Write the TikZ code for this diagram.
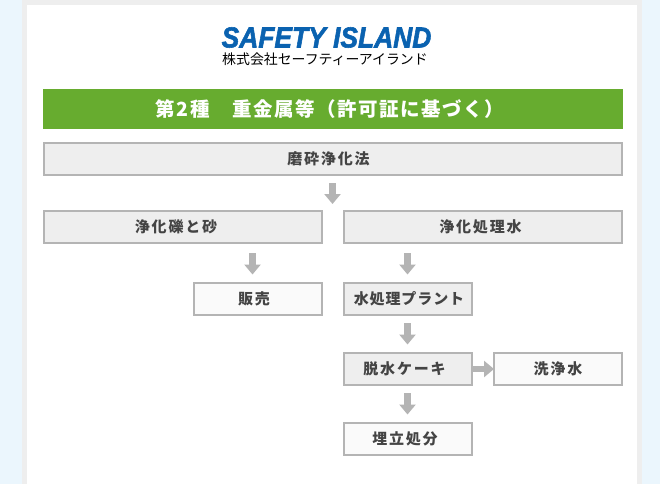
\documentclass[tikz,border=0pt]{standalone}
\usepackage{fontspec}
\usetikzlibrary{arrows.meta}
\newfontfamily\jpfont[LetterSpace=12]{Noto Sans CJK JP}
\newfontfamily\tightfont[LetterSpace=6]{Noto Sans CJK JP}
\newfontfamily\titlefont[LetterSpace=8]{Noto Sans CJK JP}
\newfontfamily\subfont{Noto Sans CJK JP}
\newfontfamily\logofont[BoldItalicFeatures={FakeBold=2}]{Liberation Sans}
\definecolor{pagebg}{HTML}{EBF6FD}
\definecolor{framegray}{HTML}{EEEEEE}
\definecolor{boxline}{HTML}{B4B4B4}
\definecolor{boxtext}{HTML}{444444}
\definecolor{barfill}{HTML}{67AC2F}
\definecolor{logoblue}{HTML}{0A62B0}
\newcommand{\shiftlabel}[2]{\hspace*{#1pt}\raisebox{-0.7pt}{#2}}
\tikzset{
  stagebox/.style={draw=boxline,line width=2pt,fill=framegray,text=boxtext,inner sep=0pt,outer sep=0pt,
    minimum height=32pt,font=\jpfont\bfseries\fontsize{15pt}{17pt}\selectfont},
  plainbox/.style={stagebox,fill=black!2},
  flowarrow/.style={draw=boxline,line width=6.5pt,-{Triangle[width=16pt,length=10pt,fill=boxline]}},
}
\begin{document}
\begin{tikzpicture}[x=1pt,y=-1pt]
\useasboundingbox (0,0) rectangle (660,484);
\fill[pagebg] (0,0) rectangle (660,484);
\fill[framegray] (22,0) rectangle (642,484);
\fill[white] (27,5) rectangle (637,484);
% logo
\node[inner sep=0pt,text=logoblue,xscale=0.91,font=\logofont\bfseries\itshape\fontsize{29pt}{31pt}\selectfont] (logo) at (326.5,37.5) {SAFETY ISLAND};
\node[inner sep=0pt,text=black,font=\subfont\fontsize{13.9pt}{15pt}\selectfont] (company) at (325,59) {株式会社セーフティーアイランド};
% heading bar
\node[fill=barfill,text=white,inner sep=0pt,minimum width=580pt,minimum height=40pt,font=\titlefont\bfseries\fontsize{19.5pt}{22pt}\selectfont] (heading) at (333,109) {\shiftlabel{-6}{第2種　重金属等（許可証に基づく）}};
% boxes
\node[stagebox,minimum width=578pt] (crush) at (333,159) {\shiftlabel{-9}{磨砕浄化法}};
\node[stagebox,minimum width=278pt] (sand) at (183,227) {\shiftlabel{-14}{浄化礫と砂}};
\node[stagebox,minimum width=278pt] (water) at (483,227) {\shiftlabel{-5}{浄化処理水}};
\node[plainbox,minimum width=128pt] (sale) at (258,299) {\shiftlabel{-8}{販売}};
\node[stagebox,minimum width=128pt,font=\tightfont\bfseries\fontsize{15pt}{17pt}\selectfont] (plant) at (408,299) {\shiftlabel{2}{水処理プラント}};
\node[stagebox,minimum width=128pt] (cake) at (408,369) {\shiftlabel{-7}{脱水ケーキ}};
\node[plainbox,minimum width=128pt] (wash) at (558,369) {\shiftlabel{0}{洗浄水}};
\node[plainbox,minimum width=128pt] (landfill) at (408,439) {\shiftlabel{-6}{埋立処分}};
% arrows
\def\midx{332.5}\def\leftx{252.5}\def\rightx{407.5}
\coordinate (split) at (\midx,210);
\draw[flowarrow,shorten <=8pt,shorten >=6pt] (crush.south -| split) -- (split);
\draw[flowarrow,shorten <=10pt,shorten >=8.5pt] (sand.south -| \leftx,0) -- (sale.north -| \leftx,0);
\draw[flowarrow,shorten <=10pt,shorten >=8.5pt] (water.south -| \rightx,0) -- (plant.north -| \rightx,0);
\draw[flowarrow,shorten <=8pt,shorten >=8.5pt] (plant.south -| \rightx,0) -- (cake.north -| \rightx,0);
\draw[flowarrow,shorten <=8pt,shorten >=8.5pt] (cake.south -| \rightx,0) -- (landfill.north -| \rightx,0);
\draw[flowarrow] (cake.east) -- (wash.west);
\end{tikzpicture}
\end{document}
